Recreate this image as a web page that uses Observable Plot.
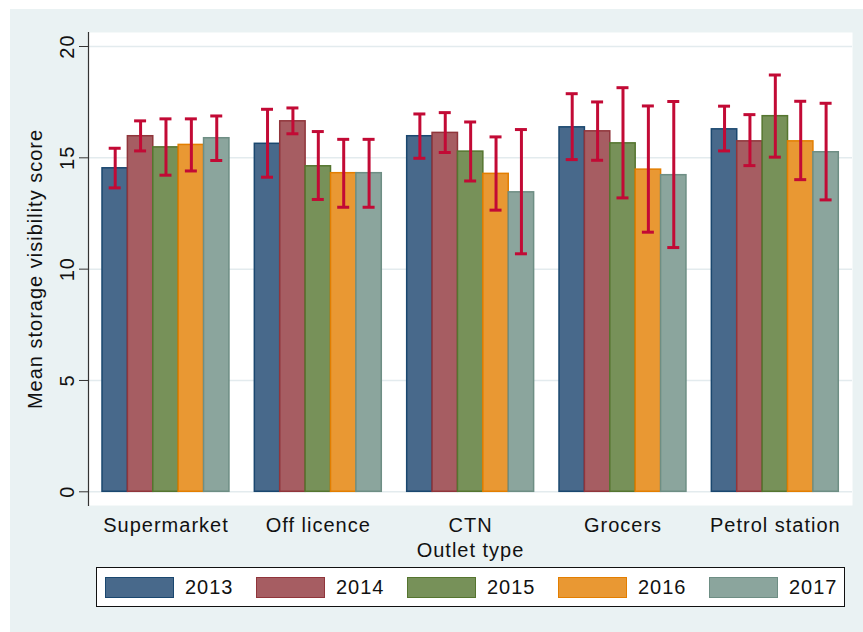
<!DOCTYPE html>
<html><head><meta charset="utf-8">
<script src="https://cdn.jsdelivr.net/npm/d3@7"></script>
<script src="https://cdn.jsdelivr.net/npm/@observablehq/plot@0.6"></script>
<style>
body{margin:0;background:#fff;}
#panel{position:absolute;left:10px;top:9px;width:853px;height:623px;background:#eaf2f3;font-family:"Liberation Sans",Arial,sans-serif;}
#legend{position:absolute;left:86px;top:558px;width:739px;height:38px;border:1.5px solid #111;background:#fff;display:flex;align-items:center;padding-left:8px;}
.item{display:flex;align-items:center;width:151px;flex:none}
.sw{width:67px;height:19px;border:1.5px solid;flex:none}
.lab{margin-left:11px;font-size:20px;letter-spacing:1px;color:#111}
</style></head>
<body><div id="panel"></div>
<script>
// ---- data ----
const categories = ["Supermarket", "Off licence", "CTN", "Grocers", "Petrol station"];
const years = ["2013", "2014", "2015", "2016", "2017"];

const mean2013 = [14.53, 15.63, 15.97, 16.37, 16.28];
const mean2014 = [15.97, 16.64, 16.12, 16.19, 15.74];
const mean2015 = [15.47, 14.62, 15.28, 15.65, 16.87];
const mean2016 = [15.58, 14.31, 14.28, 14.47, 15.74];
const mean2017 = [15.88, 14.31, 13.45, 14.22, 15.25];

const upper2013 = [15.43, 17.18, 16.97, 17.88, 17.32];
const upper2014 = [16.66, 17.24, 17.03, 17.51, 16.94];
const upper2015 = [16.75, 16.18, 16.61, 18.15, 18.72];
const upper2016 = [16.75, 15.83, 15.94, 17.33, 17.54];
const upper2017 = [16.88, 15.83, 16.27, 17.53, 17.45];

const lower2013 = [13.65, 14.13, 14.98, 14.92, 15.31];
const lower2014 = [15.31, 16.08, 15.24, 14.89, 14.65];
const lower2015 = [14.22, 13.13, 13.96, 13.20, 15.03];
const lower2016 = [14.41, 12.78, 12.65, 11.66, 14.02];
const lower2017 = [14.88, 12.78, 10.69, 10.97, 13.11];

const yTicks = [0, 5, 10, 15, 20];

const fillColors = ["#48698b", "#a65d62", "#779159", "#e99833", "#8ba59d"];
const strokeColors = ["#1a476f", "#90353b", "#55752f", "#e37e00", "#6e8e84"];
const errColor = "#c20a35";

// ---- build table ----
const means = [mean2013, mean2014, mean2015, mean2016, mean2017];
const uppers = [upper2013, upper2014, upper2015, upper2016, upper2017];
const lowers = [lower2013, lower2014, lower2015, lower2016, lower2017];
const key = (c, y) => c + "|" + y;
const rows = [];
categories.forEach((c, ci) => years.forEach((y, yi) => rows.push({
  key: key(c, y), cat: c, year: y, yi,
  mean: means[yi][ci], hi: uppers[yi][ci], lo: lowers[yi][ci]
})));
const xDomain = [];
categories.forEach((c, ci) => {
  years.forEach(y => xDomain.push(key(c, y)));
  if (ci < categories.length - 1) xDomain.push("gap" + ci);
});
const midYear = years[Math.floor(years.length / 2)];
const xTicks = categories.map(c => key(c, midYear));

const plot = Plot.plot({
  width: 853, height: 555,
  marginLeft: 78, marginRight: 11, marginTop: 23, marginBottom: 59,
  style: {background: "transparent", fontFamily: "Liberation Sans, Arial, sans-serif", fontSize: "20px", letterSpacing: "1px", color: "#111", overflow: "visible"},
  x: {type: "band", domain: xDomain, range: [92, 828.3], padding: 0, round: false},
  y: {domain: [0, 20], range: [482.3, 37]},
  color: {type: "identity"},
  marks: [
    Plot.frame({fill: "white", stroke: "none"}),
    Plot.gridY(yTicks, {stroke: "#e3ebee", strokeOpacity: 1, strokeWidth: 1.5}),
    Plot.frame({anchor: "left", stroke: "#333", strokeWidth: 1.2}),
    Plot.axisY(yTicks, {tickSize: 9, tickPadding: 6, tickRotate: -90, stroke: "#333", fontSize: 20,
      label: "Mean storage visibility score", labelAnchor: "center", labelArrow: "none", labelOffset: 61}),
    Plot.axisX(xTicks, {tickSize: 0, tickPadding: 12, fontSize: 20, tickFormat: d => d.split("|")[0],
      label: "Outlet type", labelAnchor: "center", labelArrow: "none", labelOffset: 51}),
    Plot.barY(rows, {x: "key", y: "mean", fill: d => fillColors[d.yi], stroke: d => strokeColors[d.yi], strokeWidth: 1.5}),
    Plot.ruleX(rows, {x: "key", y1: "lo", y2: "hi", stroke: errColor, strokeWidth: 3}),
    Plot.tickY(rows, {x: "key", y: "lo", stroke: errColor, strokeWidth: 3, insetLeft: 6.7, insetRight: 6.7}),
    Plot.tickY(rows, {x: "key", y: "hi", stroke: errColor, strokeWidth: 3, insetLeft: 6.7, insetRight: 6.7})
  ]
});
const panel = document.getElementById("panel");
panel.appendChild(plot);

// ---- legend ----
const legend = document.createElement("div");
legend.id = "legend";
years.forEach((y, i) => {
  const item = document.createElement("div");
  item.className = "item";
  const sw = document.createElement("div");
  sw.className = "sw";
  sw.style.background = fillColors[i];
  sw.style.borderColor = strokeColors[i];
  const lab = document.createElement("span");
  lab.className = "lab";
  lab.textContent = y;
  item.appendChild(sw); item.appendChild(lab);
  legend.appendChild(item);
});
panel.appendChild(legend);
</script>
</body></html>
